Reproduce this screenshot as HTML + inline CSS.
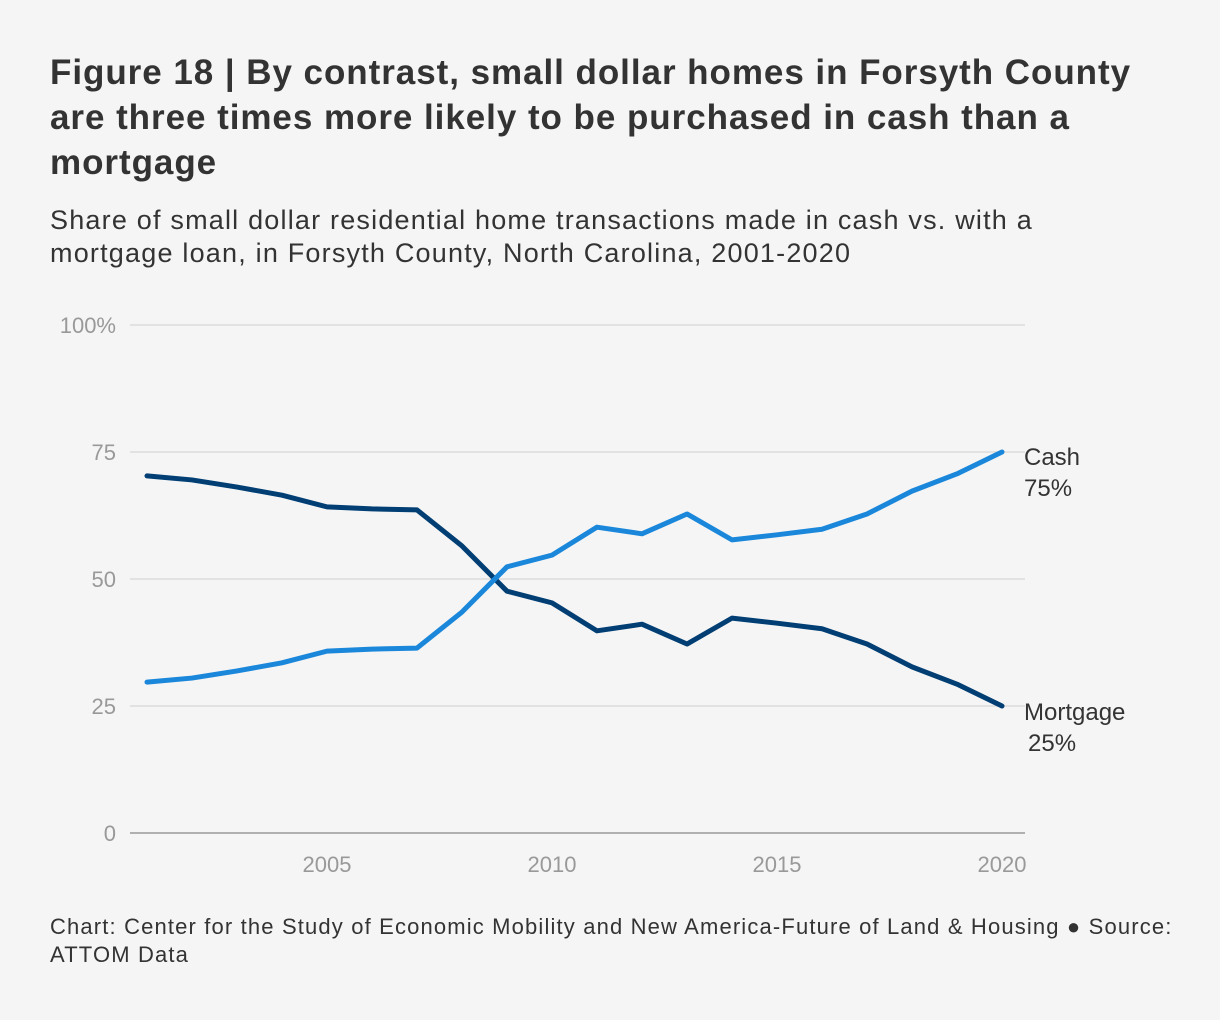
<!DOCTYPE html>
<html><head><meta charset="utf-8"><style>
body{margin:0;background:#f5f5f5;width:1220px;height:1020px;overflow:hidden;font-family:"Liberation Sans",sans-serif;}
#title{position:absolute;left:50px;top:50px;width:1110px;font-size:35px;letter-spacing:0.95px;font-weight:bold;line-height:45px;color:#333;margin:0}
#sub{position:absolute;left:50px;top:204px;width:1060px;font-size:27px;letter-spacing:1.2px;line-height:33px;color:#333;margin:0}
#foot{position:absolute;left:50px;top:913px;width:1160px;font-size:22px;letter-spacing:1.15px;line-height:28px;color:#333}
svg{position:absolute;left:0;top:0}
</style></head><body>
<h1 id="title">Figure 18 | By contrast, small dollar homes in Forsyth County are three times more likely to be purchased in cash than a mortgage</h1>
<p id="sub">Share of small dollar residential home transactions made in cash vs. with a mortgage loan, in Forsyth County, North Carolina, 2001-2020</p>
<svg id="chart" width="1220" height="1020"></svg>
<div id="foot">Chart: Center for the Study of Economic Mobility and New America-Future of Land &amp; Housing ● Source: ATTOM Data</div>
<script>
const years=[2001,2002,2003,2004,2005,2006,2007,2008,2009,2010,2011,2012,2013,2014,2015,2016,2017,2018,2019,2020];
const cash=[29.7,30.5,31.9,33.5,35.8,36.2,36.4,43.5,52.4,54.7,60.2,58.9,62.8,57.7,58.7,59.8,62.8,67.3,70.7,75];
const mortgage=[70.3,69.5,68.1,66.5,64.2,63.8,63.6,56.5,47.6,45.3,39.8,41.1,37.2,42.3,41.3,40.2,37.2,32.7,29.3,25];
const yTicks=[0,25,50,75,100];
const yTickLabels=["0","25","50","75","100%"];
const xTicks=[2005,2010,2015,2020];
const NS="http://www.w3.org/2000/svg";
const svg=document.getElementById('chart');
const x=v=>147+(v-2001)*(1002-147)/19;
const y=v=>833-v*5.08;
function mk(t,a){const e=document.createElementNS(NS,t);for(const k in a)e.setAttribute(k,a[k]);svg.appendChild(e);return e;}
yTicks.forEach((t,i)=>{
 const l=mk('line',{x1:130,x2:1025,y1:y(t),y2:y(t),stroke:t===0?'#999':'#d6d6d6','stroke-width':t===0?1.5:1.2});
 
 
 const tx=mk('text',{x:116,y:y(t)+8,'text-anchor':'end','font-size':22,fill:'#999','font-family':'Liberation Sans, sans-serif'});
 tx.textContent=yTickLabels[i];
 
 
});
xTicks.forEach(t=>{
 const tx=mk('text',{x:x(t),y:872,'text-anchor':'middle','font-size':22,fill:'#999','font-family':'Liberation Sans, sans-serif'});
 tx.textContent=t;
 
 
});
function series(vals,color,name){
 const p=mk('polyline',{points:vals.map((v,i)=>x(years[i])+','+y(v)).join(' '),fill:'none',stroke:color,'stroke-width':5,'stroke-linejoin':'round','stroke-linecap':'round'});
 
 
}
series(mortgage,'#003e73','mortgage');
series(cash,'#1a87db','cash');
function lab(t,xx,yy,name){const e=mk('text',{x:xx,y:yy,'font-size':24,fill:'#333','font-family':'Liberation Sans, sans-serif'});e.textContent=t;
 
 }
const lc=cash[cash.length-1], lm=mortgage[mortgage.length-1];
lab('Cash',1024,y(lc)+13,'cash-label');
lab(Math.round(lc)+'%',1024,y(lc)+44,'cash-value-label');
lab('Mortgage',1024,y(lm)+14,'mortgage-label');
lab(Math.round(lm)+'%',1028,y(lm)+45,'mortgage-value-label');
</script>
</body></html>
